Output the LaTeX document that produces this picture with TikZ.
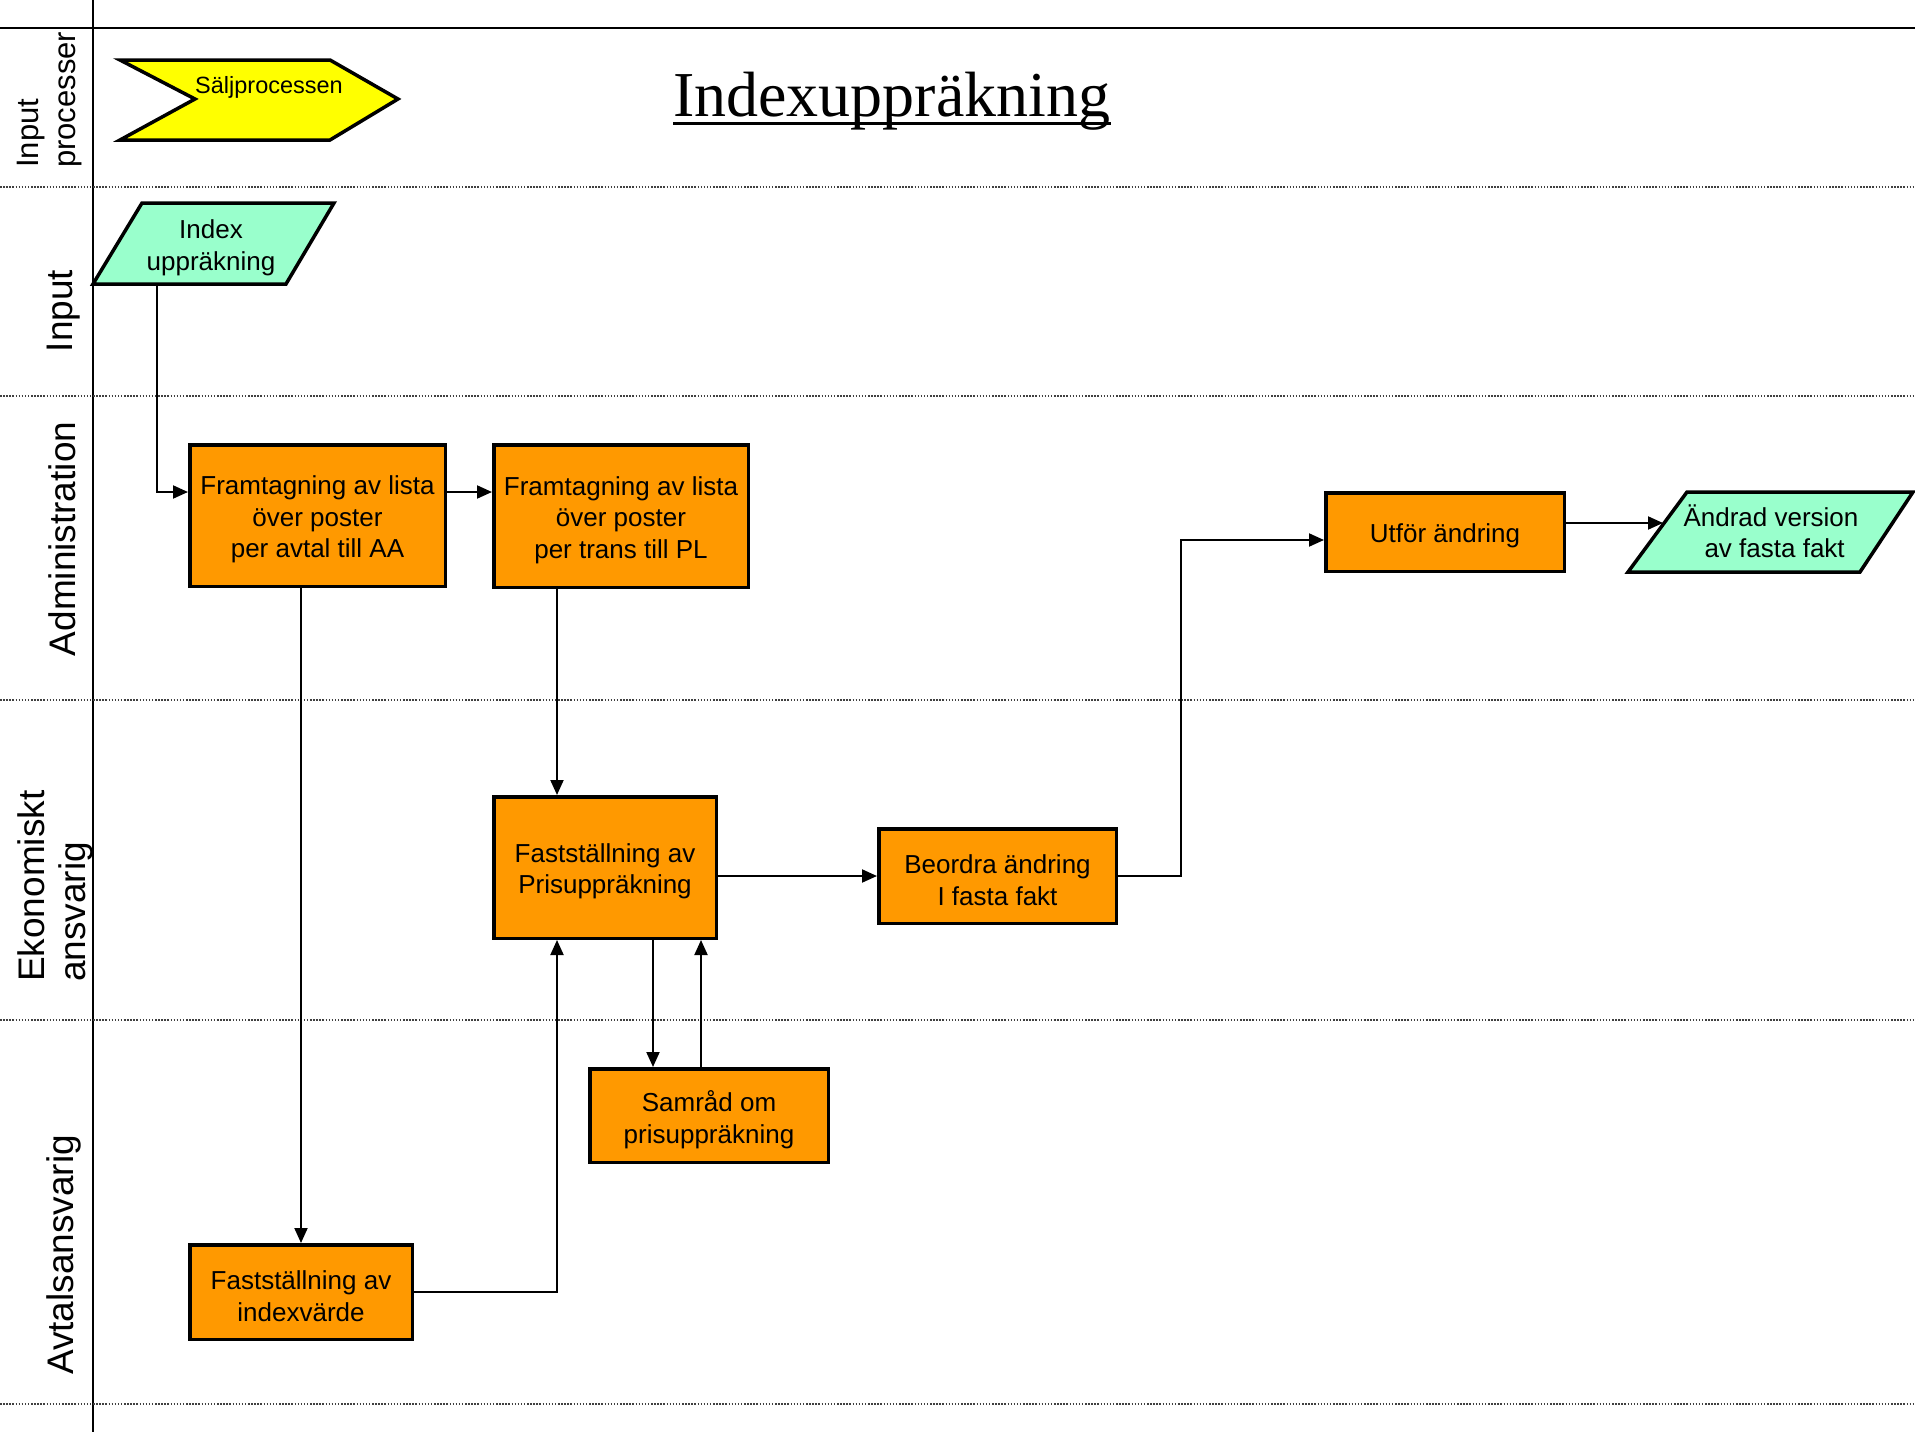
\documentclass[tikz,border=0pt]{standalone}
\usepackage{fontspec}
\setmainfont{Liberation Sans}
\newfontfamily\titlefont{Liberation Serif}
\usetikzlibrary{arrows.meta,calc}

\definecolor{procorange}{HTML}{FF9900}
\definecolor{datagreen}{HTML}{99FFCC}
\definecolor{chevyellow}{HTML}{FFFF00}

\begin{document}
\begin{tikzpicture}[x=1pt,y=-1pt,
  lanesep/.style={line width=1.5pt, black!75, dash pattern=on 1.5pt off 1.6pt},
  frameline/.style={line width=2pt, black},
  tasklbl/.style={inner sep=0pt, align=center, yshift=-4pt,
    font=\fontsize{26}{31.5}\selectfont},
  task/.style={draw=black, line width=3.5pt, fill=procorange, inner sep=0pt,
    label={[tasklbl]center:{#1}}},
  datashape/.style={draw=black, line width=3.5pt, fill=datagreen, line join=miter},
  datatext/.style={inner sep=0pt, align=center, font=\fontsize{26}{31.5}\selectfont},
  lanelabel/.style={rotate=90, inner sep=0pt, align=left,
    font=\fontsize{37}{41}\selectfont},
  conn/.style={line width=2pt, -{Triangle[length=15pt,width=13pt]}},
]
\useasboundingbox (0,0) rectangle (1915,1432);
\fill[white] (0,0) rectangle (1915,1432);

% swimlane frame
\draw[frameline, line width=2.5pt] (0,28) -- (1915,28);
\draw[frameline] (93,0) -- (93,1432);
\foreach \yy in {187,396,700,1020,1404}
  \draw[lanesep] (0,\yy) -- (1915,\yy);

% lane titles
\node[lanelabel, anchor=west, font=\fontsize{31}{37}\selectfont] (lane1) at (50,168) {Input\\processer};
\node[lanelabel] (lane2) at (64,311) {Input};
\node[lanelabel] (lane3) at (62,539) {Administration};
\node[lanelabel, anchor=west] (lane4) at (55,982) {Ekonomiskt\\ansvarig};
\node[lanelabel] (lane5) at (64,1255) {Avtalsansvarig};

% heading
\node[inner sep=0pt, anchor=base west, font=\titlefont\fontsize{64}{70}\selectfont] (title) at (673,116) {Indexuppräkning};
\draw[line width=3pt] ([yshift=-7pt]title.base west) -- ([yshift=-7pt]title.base east);

% incoming process (chevron)
\draw[line width=3.5pt, fill=chevyellow, line join=miter]
  (120,60) -- (330,60) -- (398,99) -- (330,140) -- (120,140) -- (195,99) -- cycle;
\node[inner sep=0pt, font=\fontsize{23.5}{28}\selectfont] (sales) at (269,87) {Säljprocessen};

% input data
\draw[datashape] (142,203) -- (334,203) -- (286,284) -- (93,284) -- cycle;
\node[datatext] (idx) at (211,248) {Index\\uppräkning};
\coordinate (idxfoot) at (157,284);

% output data
\draw[datashape] (1687,492) -- (1913,492) -- (1860,572) -- (1628,572) -- cycle;
\node[datatext] (chg) at (1771,531) {Ändrad version\\\ av fasta fakt};
\coordinate (chgin) at (1663,523);

% process steps
\node[task={Framtagning av lista\\över poster\\per avtal till AA},
  minimum width=255.5pt, minimum height=141.5pt] (b1) at (317.5,515.5) {};
\node[task={Framtagning av lista\\över poster\\per trans till PL},
  minimum width=254.5pt, minimum height=142.5pt] (b2) at (621,516) {};
\node[task={Fastställning av\\Prisuppräkning},
  minimum width=222.5pt, minimum height=141.5pt] (b3) at (605,867.5) {};
\node[task={Samråd om\\prisuppräkning},
  minimum width=238.5pt, minimum height=93.5pt] (b4) at (709,1115.5) {};
\node[task={Beordra ändring\\I fasta fakt},
  minimum width=237.5pt, minimum height=94.5pt] (b5) at (997.5,876) {};
\node[task={Fastställning av\\indexvärde},
  minimum width=222.5pt, minimum height=94.5pt] (b6) at (301,1292) {};
\node[task={Utför ändring},
  minimum width=238.5pt, minimum height=78.5pt] (b7) at (1445,532) {};

% routing helpers
\coordinate (c557) at (557,0);
\coordinate (c653) at (653,0);
\coordinate (c701) at (701,0);
\coordinate (c1181) at (1181,700);
\coordinate (b1out) at ($(b1.east)+(0,-23.5)$);
\coordinate (b1in) at ($(b1.west)+(0,-23.5)$);
\coordinate (b7in) at ($(b7.west)+(0,8)$);
\coordinate (b7out) at ($(b7.east)+(0,-9)$);

% connectors
\draw[conn] (idxfoot) |- (b1in);
\draw[conn] (b1out) -- (b1out -| b2.west);
\draw[conn] (b6.north |- b1.south) -- (b6.north);
\draw[conn] (b2.south -| c557) -- (b3.north -| c557);
\draw[conn] (b6.east) -| (b3.south -| c557);
\draw[conn] (b3.south -| c653) -- (b4.north -| c653);
\draw[conn] (b4.north -| c701) -- (b3.south -| c701);
\draw[conn] (b5.west -| b3.east) -- (b5.west);
\draw[conn] (b5.east) -| (c1181) |- (b7in);
\draw[conn] (b7out) -- (chgin);
\end{tikzpicture}
\end{document}
